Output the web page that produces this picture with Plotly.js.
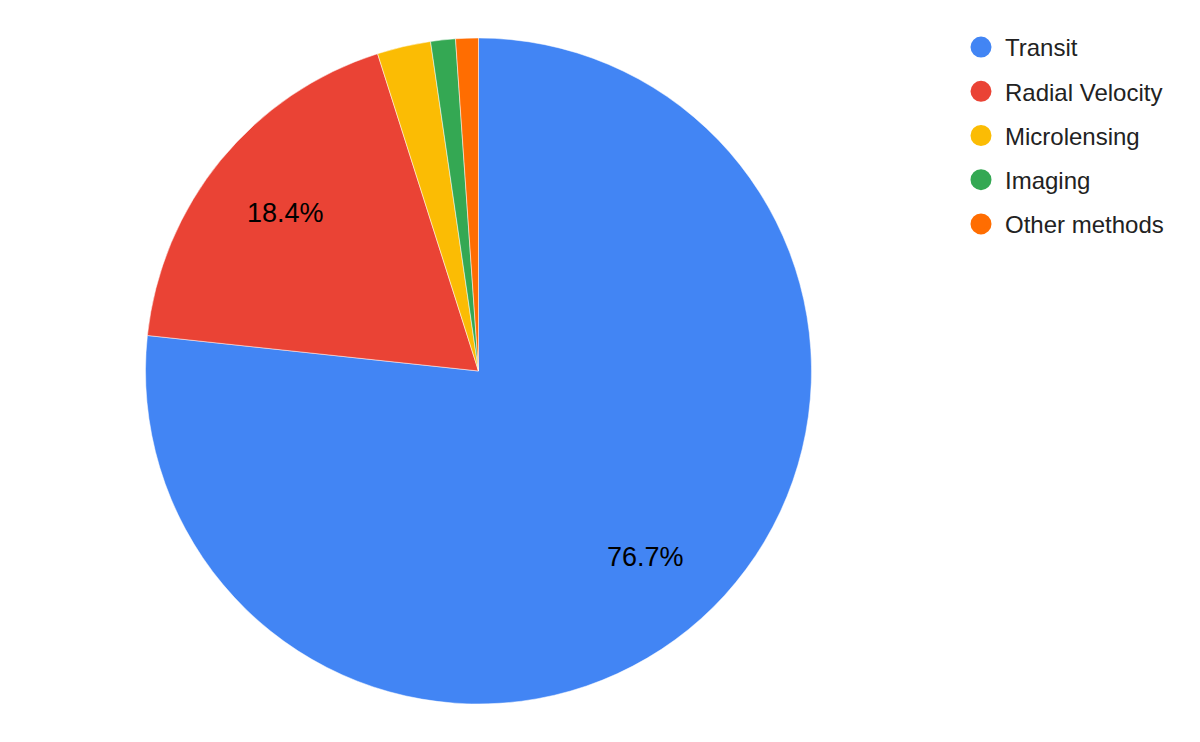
<!DOCTYPE html>
<html>
<head>
<meta charset="utf-8">
<script src="https://cdn.plot.ly/plotly-3.0.1.min.js"></script>
<style>html,body{margin:0;padding:0;background:#fff;}#chart{width:1200px;height:742px;}</style>
</head>
<body>
<div id="chart"></div>
<script>
const methods = ["Transit", "Radial Velocity", "Microlensing", "Imaging", "Other methods"];
const shares = [76.7, 18.4, 2.6, 1.2, 1.1];
const colors = ["#4285F4", "#EA4335", "#FBBC04", "#34A853", "#FF6D01"];
const labelShown = [true, true, false, false, false];

const FONT = "Liberation Sans, Arial, sans-serif";
const W = 1200, H = 742;
const dom = {x: [145/W, 812/W], y: [38/H, 704/H]};

const pie = {
  type: "pie",
  labels: methods,
  values: shares,
  sort: false,
  direction: "clockwise",
  rotation: 0,
  marker: {colors: colors, line: {color: "#ffffff", width: 0.5}},
  textinfo: "none",
  hoverinfo: "label+percent",
  showlegend: false,
  domain: dom
};

// Percentage labels placed along each slice bisector at 0.75 of the radius (computed from the data)
const total = shares.reduce((a, b) => a + b, 0);
const cxPx = (dom.x[0] + dom.x[1]) / 2 * W;
const cyPx = (dom.y[0] + dom.y[1]) / 2 * H;
const Rpx = Math.min((dom.x[1] - dom.x[0]) * W, (dom.y[1] - dom.y[0]) * H) / 2;
const annotations = [];
let cum = 0;
shares.forEach((v, i) => {
  const mid = (cum + v / 2) / total * 2 * Math.PI;
  cum += v;
  if (!labelShown[i]) return;
  const px = cxPx + 0.75 * Rpx * Math.sin(mid);
  const py = cyPx + 0.75 * Rpx * Math.cos(mid);
  annotations.push({
    xref: "paper", yref: "paper",
    x: px / W, y: py / H,
    xanchor: "center", yanchor: "middle",
    text: (v / total * 100).toFixed(1) + "%",
    showarrow: false,
    font: {family: FONT, size: 27, color: "#000000"}
  });
});

const legendTraces = methods.map((m, i) => ({
  type: "scatter",
  mode: "markers",
  x: [null], y: [null],
  name: m,
  legendgroup: "g" + i,
  marker: {color: colors[i], size: 24, symbol: "circle", line: {color: colors[i], width: 8}},
  showlegend: true,
  hoverinfo: "skip"
}));

const layout = {
  width: W, height: H,
  margin: {l: 0, r: 0, t: 0, b: 0},
  paper_bgcolor: "#ffffff",
  plot_bgcolor: "#ffffff",
  font: {family: FONT, color: "#222222"},
  xaxis: {visible: false, showgrid: false, zeroline: false},
  yaxis: {visible: false, showgrid: false, zeroline: false},
  annotations: annotations,
  showlegend: true,
  legend: {
    x: 957/W, y: 1 - 25/H, xanchor: "left", yanchor: "top",
    font: {family: FONT, size: 24, color: "#222222"},
    traceorder: "grouped",
    tracegroupgap: 10,
    itemwidth: 38,
    itemsizing: "trace",
    bgcolor: "rgba(0,0,0,0)"
  }
};

Plotly.newPlot("chart", [pie].concat(legendTraces), layout, {displayModeBar: false, staticPlot: true});
</script>
</body>
</html>
